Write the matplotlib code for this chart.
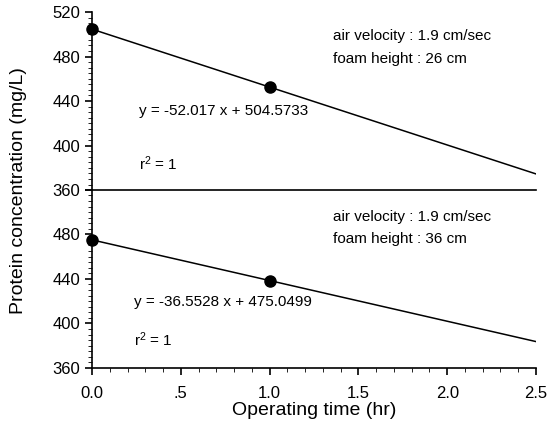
import matplotlib.pyplot as plt
import numpy as np
from matplotlib.ticker import MultipleLocator, FuncFormatter

plt.rcParams['font.family'] = ['Liberation Sans', 'DejaVu Sans']
plt.rcParams['mathtext.fontset'] = 'custom'
plt.rcParams['mathtext.rm'] = 'Liberation Sans'
plt.rcParams['mathtext.it'] = 'Liberation Sans'

# measured points (hr, mg/L)
t_pts = [0.0, 1.0]
top_pts = [504.5733, 452.556]
bot_pts = [475.0499, 438.497]

# fitted lines
top_slope, top_icpt = -52.017, 504.5733
bot_slope, bot_icpt = -36.5528, 475.0499
t_line = [0.0, 2.5]

y_ticks = [360, 400, 440, 480, 520]
x_ticks = [0.0, 0.5, 1.0, 1.5, 2.0, 2.5]
x_labels = ['0.0', '.5', '1.0', '1.5', '2.0', '2.5']

fig = plt.figure(figsize=(5.56, 4.38), dpi=100)
ax2 = fig.add_axes([0.1655, 0.160, 0.7985, 0.4066])
ax1 = fig.add_axes([0.1655, 0.566, 0.7985, 0.4066])
ax1.patch.set_visible(False)
ax2.patch.set_visible(False)


def style(ax):
    ax.set_xlim(0, 2.5)
    ax.set_ylim(360, 520)
    ax.spines['top'].set_visible(False)
    ax.spines['right'].set_visible(False)
    for s in ax.spines.values():
        s.set_linewidth(1.2)
    ax.yaxis.set_major_locator(MultipleLocator(40))
    ax.yaxis.set_minor_locator(MultipleLocator(5))
    ax.tick_params(axis='y', which='major', direction='out', length=5, width=1.2, labelsize=12)
    ax.tick_params(axis='y', which='minor', direction='out', length=3)


for ax, pts, slope, icpt in [(ax1, top_pts, top_slope, top_icpt),
                             (ax2, bot_pts, bot_slope, bot_icpt)]:
    style(ax)
    yl = [slope * t + icpt for t in t_line]
    ax.plot(t_line, yl, color='black', lw=1.1)
    ax.plot(t_pts, pts, 'o', color='black', ms=8, clip_on=False, zorder=5)

# top panel: no x ticks
ax1.tick_params(axis='x', which='both', bottom=False, labelbottom=False)
ax1.set_yticks(y_ticks)

# bottom panel: hide 520 label
ax2.set_yticks(y_ticks)
ax2.yaxis.set_major_formatter(FuncFormatter(lambda v, p: '' if v >= 520 else f'{v:.0f}'))
ax2.set_xticks(x_ticks)
ax2.set_xticklabels(x_labels)
ax2.xaxis.set_minor_locator(MultipleLocator(0.1))
ax2.tick_params(axis='x', which='major', direction='out', length=5, width=1.2, labelsize=12, pad=8)
ax2.tick_params(axis='x', which='minor', direction='out', length=3)

fs = 11
ax1.text(1.355, 498, 'air velocity : 1.9 cm/sec', fontsize=fs, va='center')
ax1.text(1.355, 478, 'foam height : 26 cm', fontsize=fs, va='center')
ax1.text(0.265, 431, 'y = -52.017 x + 504.5733', fontsize=fs, va='center')
ax1.text(0.265, 384, 'r$^2$ = 1', fontsize=fs, va='center')

ax2.text(1.355, 496, 'air velocity : 1.9 cm/sec', fontsize=fs, va='center')
ax2.text(1.355, 476, 'foam height : 36 cm', fontsize=fs, va='center')
ax2.text(0.237, 419, 'y = -36.5528 x + 475.0499', fontsize=fs, va='center')
ax2.text(0.237, 385, 'r$^2$ = 1', fontsize=fs, va='center')

fig.text(0.034, 0.566, 'Protein concentration (mg/L)', rotation=90,
         ha='center', va='center', fontsize=14)
fig.text(0.565, 0.062, 'Operating time (hr)', ha='center', va='center', fontsize=14)

fig.savefig('out.png', dpi=100)
